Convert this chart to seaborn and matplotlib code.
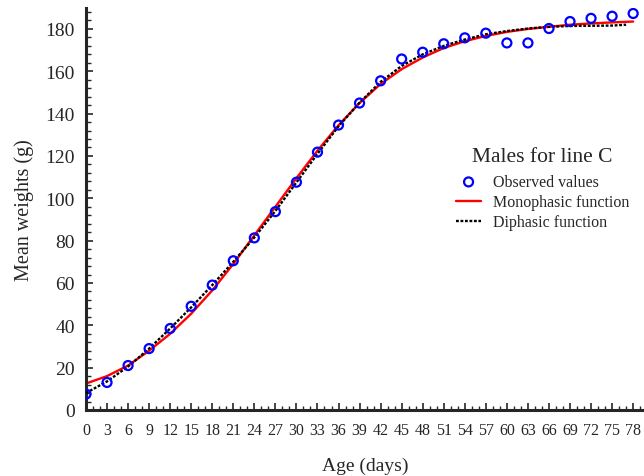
import numpy as np
import pandas as pd
import matplotlib
matplotlib.use("Agg")
import matplotlib.pyplot as plt
import seaborn as sns
from matplotlib.ticker import MultipleLocator

# Observed mean weights (g)
obs_age = [0, 3, 6, 9, 12, 15, 18, 21, 24, 27, 30, 33, 36, 39, 42, 45, 48, 51, 54, 57, 60, 63, 66, 69, 72, 75, 78]
obs_weight = [7.5, 13, 21, 29, 38.5, 49, 59, 70.5, 81.3, 93.7, 107.6, 121.8, 134.6, 145, 155.5, 165.8, 169, 173, 175.8, 178, 173.4, 173.4, 180.2, 183.5, 185, 186, 187.3]

# Monophasic fitted curve
mono_age = [0, 3, 6, 9, 12, 15, 18, 21, 24, 27, 30, 33, 36, 39, 42, 45, 48, 51, 54, 57, 60, 63, 66, 69, 72, 75, 78]
mono_weight = [12.5, 16, 21, 28, 36, 45.5, 56.5, 69, 82.5, 96, 109.5, 122.5, 134.5, 145, 154, 161, 166.5, 171, 174.2, 176.7, 178.6, 180, 181, 182, 182.6, 183.1, 183.5]

# Diphasic fitted curve
di_age = [0, 3, 6, 9, 12, 15, 18, 21, 24, 27, 30, 33, 36, 39, 42, 45, 48, 51, 54, 57, 60, 63, 66, 69, 72, 75, 77]
di_weight = [8, 13.5, 20.5, 29, 38.5, 48.5, 59, 70, 81.5, 94, 107.5, 121, 134, 145.2, 155, 162.5, 168, 172, 175, 177.5, 179, 180.2, 181, 181.4, 181.5, 181.6, 182]

x_ticks = list(range(0, 79, 3))
y_ticks = list(range(0, 181, 20))

sns.set_style("ticks")
plt.rcParams['font.family'] = ['Liberation Serif', 'DejaVu Serif']

fig = plt.figure(figsize=(6.44, 4.77), dpi=100)
ax = fig.add_axes([0.1335, 0.1384, 0.866, 0.8432])

df_obs = pd.DataFrame({"age": obs_age, "weight": obs_weight})
df_mono = pd.DataFrame({"age": mono_age, "weight": mono_weight})
df_di = pd.DataFrame({"age": di_age, "weight": di_weight})

sns.lineplot(data=df_mono, x="age", y="weight", ax=ax, color="#ff0000", lw=1.7,
             label="Monophasic function", zorder=2)
sns.lineplot(data=df_di, x="age", y="weight", ax=ax, color="black", lw=1.7,
             label="Diphasic function", zorder=3, dashes=False)
ax.lines[-1].set_linestyle((0, (1.2, 0.7)))
sns.scatterplot(data=df_obs, x="age", y="weight", ax=ax, marker="o",
                facecolor="none", edgecolor="#0000ff", linewidth=1.6, s=42,
                label="Observed values", zorder=4)

ax.set_xlim(0, 79.5)
ax.set_ylim(0, 190)
ax.set_xticks(x_ticks)
ax.set_yticks(y_ticks)
ax.xaxis.set_minor_locator(MultipleLocator(1))
ax.yaxis.set_minor_locator(MultipleLocator(4))
ax.tick_params(axis='x', which='major', direction='in', length=5, width=1.2, labelsize=11.5, pad=9)
ax.tick_params(axis='x', which='minor', direction='in', length=3, width=1)
ax.tick_params(axis='y', which='major', direction='in', length=5, width=1.2, labelsize=14, pad=8)
ax.tick_params(axis='y', which='minor', direction='in', length=3.5, width=1)

for s in ['top', 'right']:
    ax.spines[s].set_visible(False)
for s in ['left', 'bottom']:
    ax.spines[s].set_linewidth(2.2)

ax.set_xlabel("Age (days)", fontsize=14, labelpad=13)
ax.set_ylabel("Mean weights (g)", fontsize=14.5, labelpad=8)

handles, labels = ax.get_legend_handles_labels()
order = [labels.index("Observed values"), labels.index("Monophasic function"), labels.index("Diphasic function")]
leg = ax.legend([handles[i] for i in order], [labels[i] for i in order],
                title="Males for line C", loc="upper left",
                bbox_to_anchor=(443 / 644, 1 - 135 / 477), bbox_transform=fig.transFigure,
                frameon=False, fontsize=11.5, title_fontsize=15.5,
                handlelength=1.6, handletextpad=0.7, labelspacing=0.25,
                borderpad=0.3)
leg._legend_box.align = "center"
leg._legend_box.sep = 6

fig.savefig("out.png", dpi=100)
